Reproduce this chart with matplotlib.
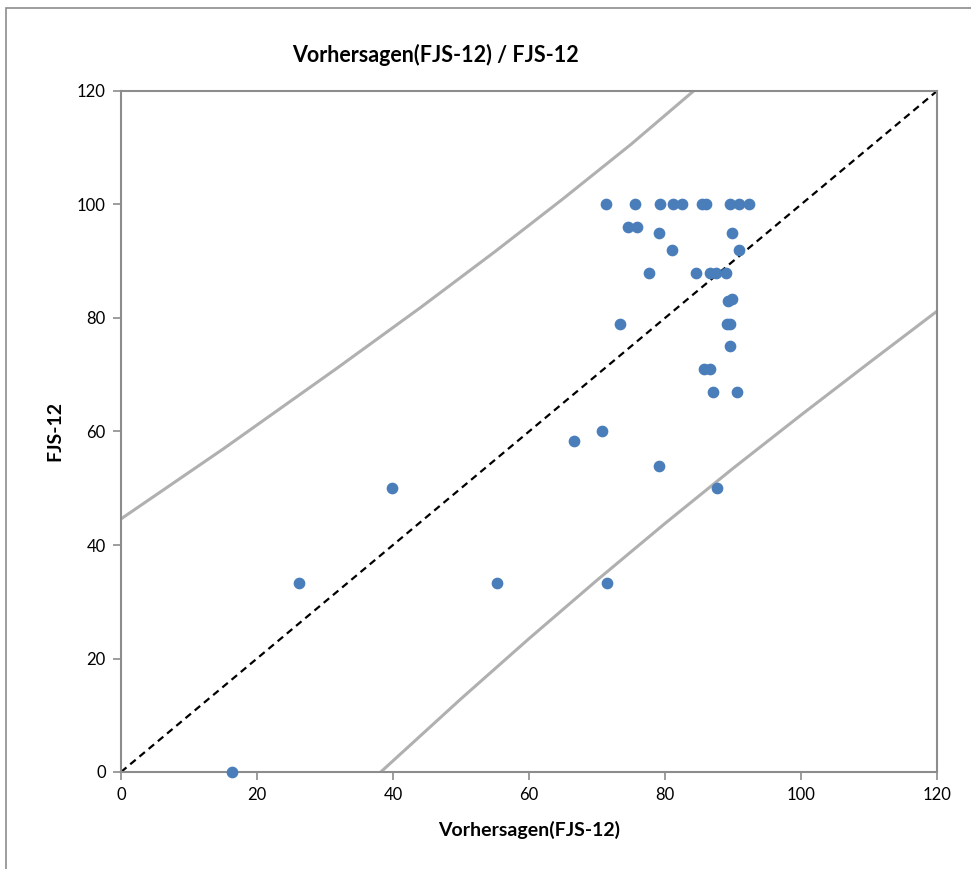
import matplotlib.pyplot as plt
from matplotlib.patches import Rectangle

plt.rcParams['font.family'] = ['Lato', 'DejaVu Sans']

predicted = [16.3, 26.2, 39.9, 55.3, 71.5, 66.6, 70.8, 79.1, 87.7, 73.4,
             71.3, 75.6, 79.3, 81.2, 82.5, 85.4, 86.0, 89.5, 90.9, 92.4,
             74.5, 75.9, 79.1, 89.8, 81.0, 90.9,
             77.6, 84.5, 86.6, 87.5, 88.9,
             89.3, 89.9, 89.1, 89.6, 89.6, 85.8, 86.6, 87.0, 90.6]
observed = [0, 33.3, 50, 33.3, 33.3, 58.3, 60, 54, 50, 79,
            100, 100, 100, 100, 100, 100, 100, 100, 100, 100,
            96, 96, 95, 95, 92, 92,
            88, 88, 88, 88, 88,
            83, 83.3, 79, 79, 75, 71, 71, 67, 67]

# ideal line and the two gray band lines
ideal_x = [0, 120]
ideal_y = [0, 120]
upper_x = [0, 15, 31.7, 44, 55, 65, 75, 84.2]
upper_y = [44.6, 56.9, 71.1, 81.8, 91.7, 101.0, 110.6, 120]
lower_x = [38.2, 50, 60, 70, 80, 90, 100, 110, 120]
lower_y = [0, 12.9, 23.5, 33.8, 43.8, 53.5, 62.9, 72.1, 81.2]

fig = plt.figure(figsize=(9.71, 8.69), dpi=100)
ax = fig.add_axes([121/971, 1 - 772/869, 816/971, 681/869])

# outer chart frame
fig.patches.append(Rectangle((6/971, -0.1), 1.2, 1.1 - 8/869, transform=fig.transFigure,
                             fill=False, edgecolor='#8c8c8c', linewidth=1.2))

band_color = '#b0b0b0'
ax.plot(upper_x, upper_y, color=band_color, linewidth=2.2, solid_capstyle='butt')
ax.plot(lower_x, lower_y, color=band_color, linewidth=2.2, solid_capstyle='butt')
ax.plot(ideal_x, ideal_y, color='black', linewidth=1.6, linestyle=(0, (3.2, 2.2)))
ax.scatter(predicted, observed, s=55, color='#4a7ebb', zorder=3, clip_on=False)

ax.set_xlim(0, 120)
ax.set_ylim(0, 120)
ax.set_xticks(range(0, 121, 20))
ax.set_yticks(range(0, 121, 20))
for side in ax.spines.values():
    side.set_color('#8c8c8c')
    side.set_linewidth(1.5)
ax.tick_params(direction='out', length=6, width=1.2, color='#8c8c8c',
               labelsize=12, pad=5)

ax.set_title('Vorhersagen(FJS-12) / FJS-12', fontsize=15.5, fontweight='bold',
             x=0.385, pad=21)
ax.set_xlabel('Vorhersagen(FJS-12)', fontsize=14, fontweight='bold', labelpad=13)
ax.set_ylabel('FJS-12', fontsize=14, fontweight='bold', labelpad=10)

fig.savefig('out.png', dpi=100)
